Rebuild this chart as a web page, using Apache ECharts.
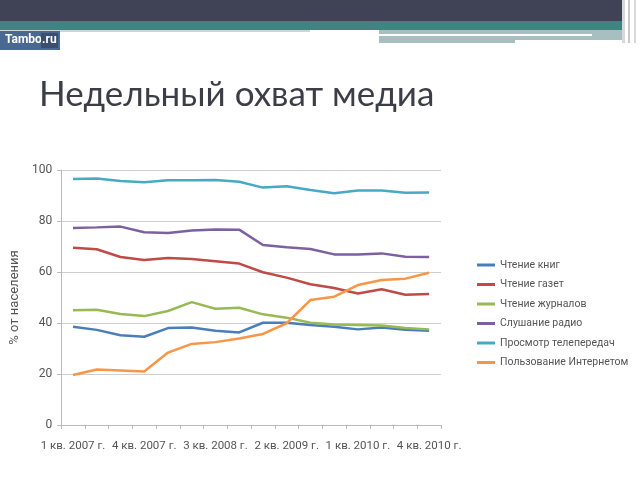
<!DOCTYPE html>
<html>
<head>
<meta charset="utf-8">
<script src="https://cdn.jsdelivr.net/npm/echarts@6/dist/echarts.min.js"></script>
<style>html,body{margin:0;padding:0;background:#fff;}#c{width:640px;height:480px;}</style>
</head>
<body>
<div id="c"></div>
<script>
const categories = ['1 кв. 2007 г.','2 кв. 2007 г.','3 кв. 2007 г.','4 кв. 2007 г.','1 кв. 2008 г.','2 кв. 2008 г.','3 кв. 2008 г.','4 кв. 2008 г.','1 кв. 2009 г.','2 кв. 2009 г.','3 кв. 2009 г.','4 кв. 2009 г.','1 кв. 2010 г.','2 кв. 2010 г.','3 кв. 2010 г.','4 кв. 2010 г.'];
const books      = [38.5, 37.3, 35.2, 34.6, 38.0, 38.2, 37.0, 36.3, 40.1, 40.1, 39.2, 38.5, 37.5, 38.2, 37.4, 37.0];
const newspapers = [69.5, 68.9, 65.9, 64.7, 65.5, 65.1, 64.2, 63.3, 59.9, 57.8, 55.2, 53.7, 51.6, 53.2, 51.1, 51.4];
const magazines  = [45.0, 45.2, 43.5, 42.7, 44.7, 48.2, 45.6, 46.0, 43.4, 42.1, 40.1, 39.4, 39.2, 39.0, 38.0, 37.5];
const radio      = [77.3, 77.5, 77.8, 75.6, 75.3, 76.3, 76.7, 76.6, 70.6, 69.7, 69.0, 66.9, 66.9, 67.3, 66.0, 65.9];
const tv         = [96.5, 96.7, 95.7, 95.2, 96.0, 96.0, 96.1, 95.4, 93.1, 93.6, 92.2, 90.9, 92.0, 92.0, 91.1, 91.2];
const internet   = [19.6, 21.8, 21.4, 21.0, 28.4, 31.8, 32.5, 33.9, 35.7, 39.9, 49.0, 50.3, 54.9, 56.9, 57.4, 59.7];
const seriesNames = ['Чтение книг','Чтение газет','Чтение журналов','Слушание радио','Просмотр телепередач','Пользование Интернетом'];
const seriesData = [books, newspapers, magazines, radio, tv, internet];
const colors = ['#4a7ebb','#be4b48','#98b954','#7d60a0','#46aac5','#f79646'];
const yTicks = {min: 0, max: 100, interval: 20};
const titleText = 'Недельный охват медиа';
const yAxisName = '% от населения';

const chart = echarts.init(document.getElementById('c'), null, {renderer: 'canvas'});
chart.setOption({
  animation: false,
  backgroundColor: '#ffffff',
  color: colors,
  textStyle: {fontFamily: 'Roboto'},
  graphic: [
    {type: 'rect', shape: {x: 0, y: 0, width: 622, height: 21}, style: {fill: '#404356'}},
    {type: 'rect', shape: {x: 0, y: 21, width: 622, height: 9}, style: {fill: '#3f8480'}},
    {type: 'rect', shape: {x: 0, y: 30, width: 310, height: 2}, style: {fill: '#c9d7d8'}},
    {type: 'rect', shape: {x: 379, y: 30, width: 243, height: 13}, style: {fill: '#a8bfc1'}},
    {type: 'rect', shape: {x: 379, y: 34, width: 213, height: 2}, style: {fill: '#ffffff'}},
    {type: 'rect', shape: {x: 515, y: 40, width: 107, height: 3}, style: {fill: '#ffffff'}},
    {type: 'rect', shape: {x: 622, y: 0, width: 3, height: 43}, style: {fill: '#d8d8d8'}},
    {type: 'rect', shape: {x: 628, y: 0, width: 2, height: 43}, style: {fill: '#c8c8c8'}},
    {type: 'rect', shape: {x: 634, y: 0, width: 2, height: 43}, style: {fill: '#d8d8d8'}},
    {type: 'rect', shape: {x: 0, y: 31, width: 60, height: 19}, style: {fill: '#4a6990'}},
    {type: 'text', left: 5, top: 34, style: {text: 'Tambo', fill: '#ffffff', font: 'bold 12px Roboto'}},
    {type: 'rect', shape: {x: 41, y: 33, width: 17, height: 15}, style: {fill: '#3b4f6c'}},
    {type: 'text', left: 42, top: 34, style: {text: '.ru', fill: '#ffffff', font: 'bold 12px Roboto'}},
    {type: 'text', left: 39, top: 77, style: {text: titleText, fill: '#3d3d47', font: '35px Lato'}}
  ],
  grid: {left: 54, right: 199, top: 170, bottom: 55, containLabel: false},
  legend: {
    orient: 'vertical', left: 472, top: 254,
    icon: 'rect', itemWidth: 18, itemHeight: 3, itemGap: 7.5,
    textStyle: {fontSize: 10.5, color: '#555', lineHeight: 12, fontFamily: 'Roboto'},
    data: seriesNames
  },
  xAxis: {
    type: 'category', data: categories, boundaryGap: true,
    axisLine: {lineStyle: {color: '#bbbbbb'}},
    axisTick: {show: true, interval: 0, length: 4, lineStyle: {color: '#bbbbbb'}},
    axisLabel: {interval: 2, color: '#555', fontSize: 11.5, margin: 15, fontFamily: 'Roboto'},
    splitLine: {show: false}
  },
  yAxis: {
    type: 'value', min: yTicks.min, max: yTicks.max, interval: yTicks.interval,
    name: yAxisName, nameLocation: 'middle', nameGap: 33, nameRotate: 90,
    nameTextStyle: {color: '#555', fontSize: 13, fontFamily: 'Roboto'},
    axisLine: {show: true, lineStyle: {color: '#bbbbbb'}},
    axisTick: {show: true, length: 4, lineStyle: {color: '#bbbbbb'}},
    axisLabel: {color: '#555', fontSize: 12, margin: 9, fontFamily: 'Roboto'},
    splitLine: {lineStyle: {color: '#cfcfcf'}}
  },
  series: seriesNames.map((n, i) => ({
    name: n, type: 'line', data: seriesData[i], symbol: 'none',
    lineStyle: {width: 2.5, color: colors[i]}, itemStyle: {color: colors[i]}
  }))
});
</script>
</body>
</html>
